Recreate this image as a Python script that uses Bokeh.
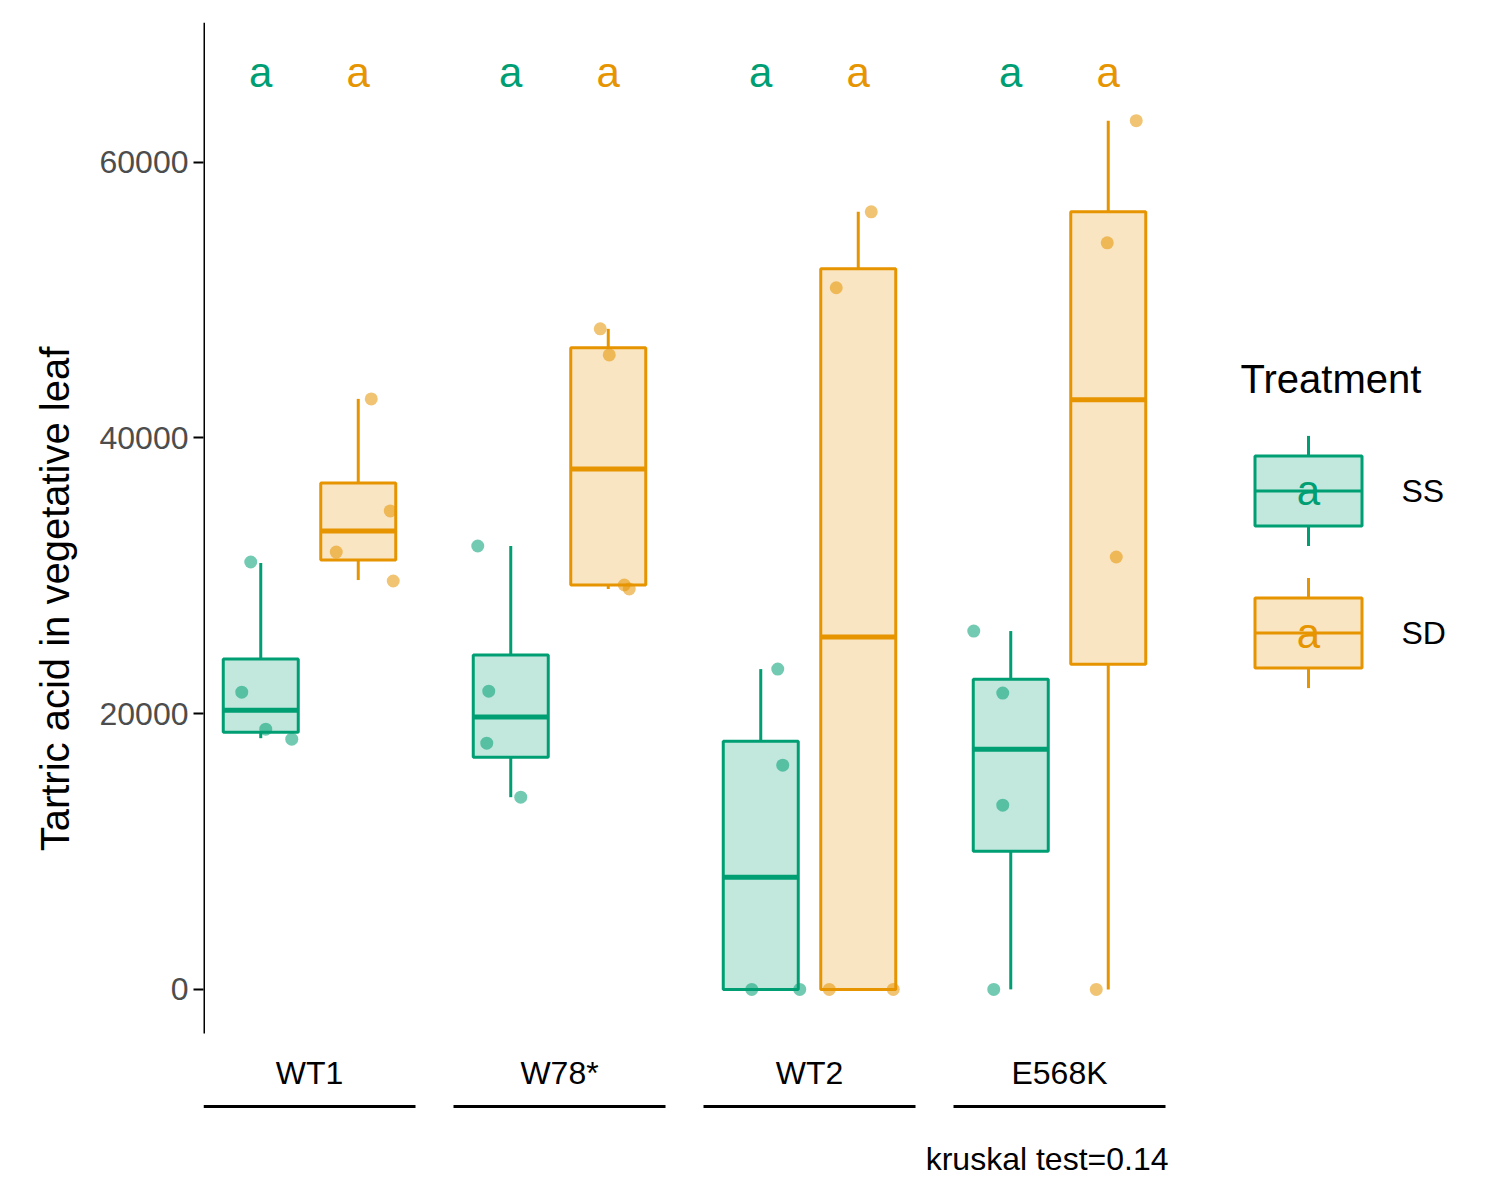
from bokeh.plotting import figure
from bokeh.models import FixedTicker
from bokeh.embed import file_html
from bokeh.resources import INLINE
from bokeh.core.properties import value

groups = ["WT1", "W78*", "WT2", "E568K"]
treatments = ["SS", "SD"]
colors = {"SS": "#009E73", "SD": "#E69400"}

# box stats per group, per treatment: (lower whisker, q1, median, q3, upper whisker)
ss_lo = [18220, 13940, 0, 0]
ss_q1 = [18657, 16840, 0, 10020]
ss_med = [20254, 19750, 8130, 17420]
ss_q3 = [23956, 24250, 18000, 22500]
ss_hi = [30925, 32160, 23230, 25990]
sd_lo = [29690, 29040, 0, 0]
sd_q1 = [31140, 29330, 0, 23590]
sd_med = [33250, 37750, 25550, 42760]
sd_q3 = [36730, 46530, 52270, 56400]
sd_hi = [42830, 47910, 56400, 63010]

# raw points
ss_pts = [[31000, 21560, 18875, 18150], [32160, 21630, 17860, 13940],
          [23230, 16260, 0, 0], [25990, 21490, 13360, 0]]
ss_jit = [[-0.04, -0.076, 0.02, 0.124], [-0.132, -0.088, -0.096, 0.04],
          [0.068, 0.088, -0.036, 0.156], [-0.148, -0.032, -0.032, -0.068]]
sd_pts = [[42830, 34700, 31720, 29620], [47910, 46020, 29330, 29040],
          [56400, 50890, 0, 0], [63010, 54150, 31360, 0]]
sd_jit = [[0.052, 0.128, -0.088, 0.14], [-0.032, 0.004, 0.064, 0.084],
          [0.052, -0.088, -0.116, 0.14], [0.112, -0.004, 0.032, -0.048]]
letters_ss = ["a", "a", "a", "a"]
letters_sd = ["a", "a", "a", "a"]
kruskal_p = "0.14"

font = "Liberation Sans"
p = figure(width=1492, height=1192, output_backend="svg", toolbar_location=None,
           x_range=(0.576, 5.732), y_range=(-13500, 70130),
           min_border_left=203, min_border_top=22, min_border_bottom=17, min_border_right=0)
p.outline_line_color = None
p.grid.visible = False
p.xaxis.visible = False
ya = p.yaxis[0]
ya.ticker = FixedTicker(ticks=[0, 20000, 40000, 60000])
ya.axis_line_color = None
ya.major_tick_line_width = 2
ya.major_tick_out = 10
ya.major_tick_in = 0
ya.minor_tick_line_color = None
ya.major_label_text_font_size = "32px"
ya.major_label_text_color = "#4d4d4d"
ya.major_label_text_font = font
ya.axis_label = "Tartric acid in vegetative leaf"
ya.axis_label_text_font_size = "40px"
ya.axis_label_text_font_style = "normal"
ya.axis_label_text_color = "black"
ya.axis_label_text_font = font
ya.axis_label_standoff = 20

x0 = 0.576
p.segment(x0, -3200, x0, 70130, line_color="black", line_width=3)

dodge = 0.195
bw = 0.3

for t, sgn, lo, q1, med, q3, hi, pts, jit, let in [
        ("SS", -1, ss_lo, ss_q1, ss_med, ss_q3, ss_hi, ss_pts, ss_jit, letters_ss),
        ("SD", 1, sd_lo, sd_q1, sd_med, sd_q3, sd_hi, sd_pts, sd_jit, letters_sd)]:
    c = colors[t]
    xs = [i + 1 + sgn * dodge for i in range(len(groups))]
    p.segment(xs, q3, xs, hi, line_color=c, line_width=3)
    p.segment(xs, lo, xs, q1, line_color=c, line_width=3)
    p.vbar(x=xs, bottom=q1, top=q3, width=bw, fill_color=c, fill_alpha=0.24,
           line_color=c, line_width=3)
    p.segment([x - bw / 2 for x in xs], med, [x + bw / 2 for x in xs], med,
              line_color=c, line_width=5)
    px, py = [], []
    for i in range(len(groups)):
        for v, j in zip(pts[i], jit[i]):
            px.append(xs[i] + j)
            py.append(v)
    p.scatter(px, py, size=13, fill_color=c, line_color=None, fill_alpha=0.55)
    p.text(xs, [66500] * len(xs), text=let, text_color=c, text_font_size="42px",
           text_align="center", text_baseline="middle", text_font=value(font))

gx = [i + 1 for i in range(len(groups))]
p.text(gx, [-6100] * 4, text=groups, text_font_size="32px", text_align="center",
       text_baseline="middle", text_color="black", text_font=value(font))
p.segment([g - 0.424 for g in gx], [-8490] * 4, [g + 0.424 for g in gx], [-8490] * 4,
          line_color="black", line_width=3)
p.text([4.436], [-12270], text=["kruskal test=" + kruskal_p], text_font_size="32px",
       text_align="right", text_baseline="middle", text_color="black", text_font=value(font))

# legend
lx = 4.996
p.text([4.724], [44280], text=["Treatment"], text_font_size="40px", text_align="left",
       text_baseline="middle", text_color="black", text_font=value(font))
u = 20000 / 275.5
for t, cy in [("SS", 490), ("SD", 632)]:
    c = colors[t]
    yc = (988 - cy) * u
    h = 35 * u
    p.segment(lx, yc + h, lx, yc + 55 * u, line_color=c, line_width=3)
    p.segment(lx, yc - h, lx, yc - 55 * u, line_color=c, line_width=3)
    p.rect(lx, yc, width=0.428, height=2 * h, fill_color=c, fill_alpha=0.24,
           line_color=c, line_width=3)
    p.segment(lx - 0.214, yc, lx + 0.214, yc, line_color=c, line_width=3)
    p.text([lx], [yc], text=["a"], text_color=c, text_font_size="42px",
           text_align="center", text_baseline="middle", text_font=value(font))
    p.text([5.368], [yc], text=[t], text_color="black", text_font_size="32px",
           text_align="left", text_baseline="middle", text_font=value(font))

open("out.html", "w").write(file_html(p, INLINE))
